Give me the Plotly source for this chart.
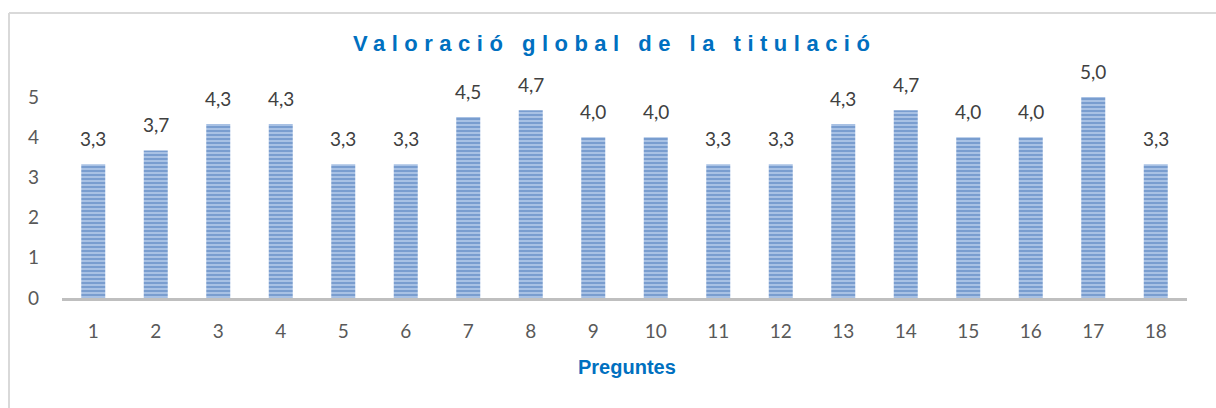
import plotly.graph_objects as go

categories = [str(i) for i in range(1, 19)]
values = [3.33, 3.67, 4.33, 4.33, 3.33, 3.33, 4.5, 4.67, 4.0, 4.0,
          3.33, 3.33, 4.33, 4.67, 4.0, 4.0, 5.0, 3.33]
y_ticks = [0, 1, 2, 3, 4, 5]
title_text = "Valoració global de la titulació"
x_title = "Preguntes"

W, H = 1216, 408
ML, MR, MT, MB = 62, 29, 97, 110
PW, PH = W - ML - MR, H - MT - MB

def px_x(p):
    return (p - ML) / PW

def px_y(p):
    return (H - MB - p) / PH

fig = go.Figure()
fig.add_trace(go.Bar(
    x=categories, y=values,
    marker=dict(
        color="#b3caea",
        line=dict(width=0),
        pattern=dict(shape="-", fgcolor="#3f6fb3", bgcolor="#b3caea",
                     size=4, solidity=0.6, fillmode="overlay"),
    ),
    hoverinfo="x+y",
))

for i, v in enumerate(values):
    fig.add_annotation(x=i, y=v, text=f"{v:.1f}".replace(".", ","),
                       showarrow=False, yanchor="bottom", yshift=12,
                       font=dict(family="Lato, Liberation Sans, sans-serif",
                                 size=19, color="#404040"))

fig.add_annotation(xref="paper", yref="paper", x=px_x(614), y=px_y(44),
                   text=f"<b>{title_text}</b>", showarrow=False,
                   xanchor="center", yanchor="middle",
                   font=dict(family="Liberation Sans, Arial, sans-serif",
                             size=22, color="#0070c0"))
fig.add_annotation(xref="paper", yref="paper", x=px_x(627), y=px_y(367),
                   text=f"<b>{x_title}</b>", showarrow=False,
                   xanchor="center", yanchor="middle",
                   font=dict(family="Liberation Sans, Arial, sans-serif",
                             size=20, color="#0070c0"))

# chart frame
fig.add_shape(type="line", xref="paper", yref="paper",
              x0=px_x(9), x1=px_x(1220), y0=px_y(13), y1=px_y(13),
              line=dict(color="#d9d9d9", width=2))
fig.add_shape(type="line", xref="paper", yref="paper",
              x0=px_x(9), x1=px_x(9), y0=px_y(13), y1=px_y(412),
              line=dict(color="#d9d9d9", width=2))

fig.update_layout(
    width=W, height=H,
    margin=dict(l=ML, r=MR, t=MT, b=MB),
    paper_bgcolor="white", plot_bgcolor="white",
    bargap=0.616,
    showlegend=False,
    separators=",.",
    font=dict(family="Lato, Liberation Sans, sans-serif", size=19, color="#595959"),
)
fig.update_xaxes(type="category", showline=True, linecolor="#bfbfbf", linewidth=3,
                 showgrid=False, ticks="", ticklabelstandoff=14,
                 tickfont=dict(size=19, color="#595959"))
fig.update_yaxes(range=[0, 5], tickvals=y_ticks, showgrid=False,
                 zeroline=False, showline=False, ticks="",
                 ticklabelstandoff=22,
                 tickfont=dict(size=19, color="#595959"))

post = ("document.body.style.margin='0';"
        "document.querySelectorAll('.annotation-text').forEach(function(e){"
        "if(e.textContent==='" + title_text + "'){e.style.letterSpacing='6.5px';}});")
fig.write_html("out.html", post_script=post, config={"displayModeBar": False})
